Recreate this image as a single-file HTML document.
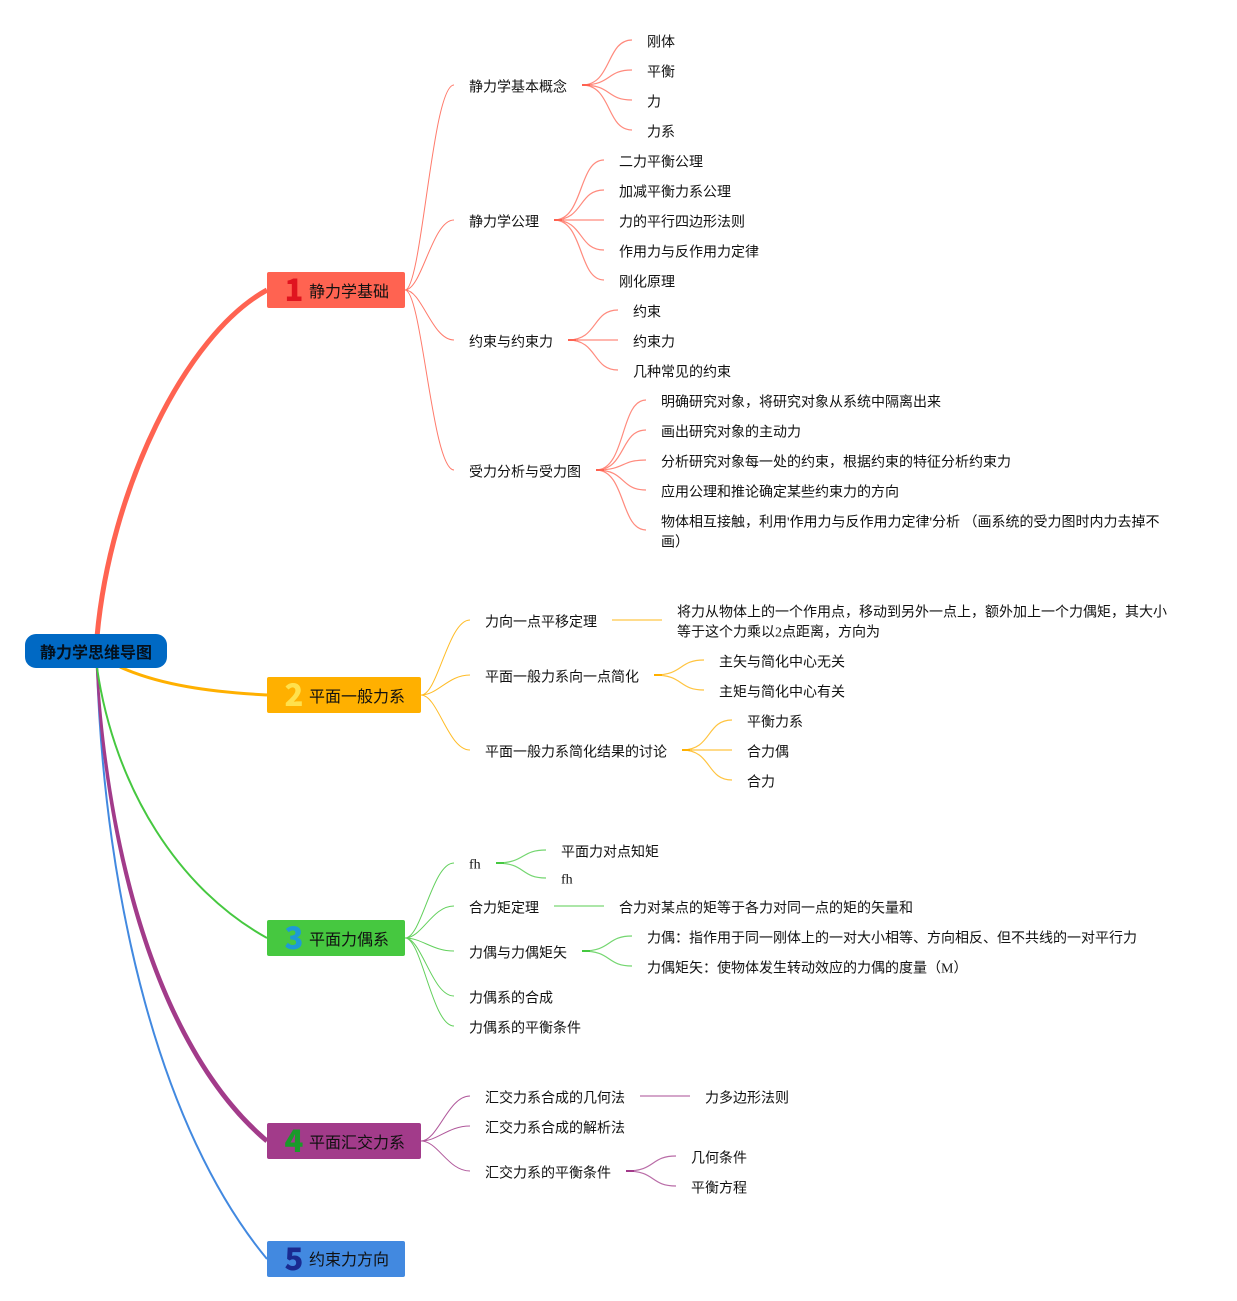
<!DOCTYPE html>
<html>
<head>
<meta charset="utf-8">
<style>
html,body{margin:0;padding:0;background:#fff;width:1237px;height:1301px;overflow:hidden}
svg{display:block}
text{font-family:"Liberation Serif","WenQuanYi Zen Hei","Noto Sans CJK SC",serif;font-size:14px;fill:#111}
.b{font-size:16px}
.r{font-size:16px;font-weight:bold;fill:#04101c}
.n{font-family:"Noto Sans CJK SC","Liberation Sans",sans-serif;font-size:31px;font-weight:900;text-anchor:middle}
path{fill:none;stroke-linecap:butt}
.t{stroke-width:1;opacity:.85}
.l{stroke-width:1.2;opacity:.75}
.s{stroke-width:2}
</style>
</head>
<body>
<svg width="1237" height="1301" viewBox="0 0 1237 1301" xmlns="http://www.w3.org/2000/svg">
<!-- main branches -->
<path d="M97 668C105 900 160 1130 267 1259" stroke="#4289e0" stroke-width="2"/>
<path d="M95.8 668C105.5 870 163 1056.5 265.4 1142.9L268.6 1139.1C167 1053.5 110.5 870 98.2 668Z" style="fill:#a23b8a"/>
<path d="M97 668C115 790 180 890 267 938" stroke="#46c840" stroke-width="2"/>
<path d="M120 667C160 685 210 692 267 695" stroke="#ffb000" stroke-width="3"/>
<path d="M97 637C110 490 185 335 267 290" stroke="#ff6351" stroke-width="5"/>

<!-- red -->
<g stroke="#ff6351">
<path class="t" d="M405 290C422 290 432 85 454 85M405 290C422 290 432 220 454 220M405 290C422 290 432 340 454 340M405 290C422 290 432 470 454 470"/>
<path class="s" d="M582 85H590M554 220H562M568 340H576M596 470H604"/>
<path class="l" d="M582 85C612 85 606 40 632 40M582 85C612 85 606 70 632 70M582 85C612 85 606 100 632 100M582 85C612 85 606 130 632 130"/>
<path class="l" d="M554 220C584 220 578 160 604 160M554 220C584 220 578 190 604 190M554 220H604M554 220C584 220 578 250 604 250M554 220C584 220 578 280 604 280"/>
<path class="l" d="M568 340C598 340 592 310 618 310M568 340H618M568 340C598 340 592 370 618 370"/>
<path class="l" d="M596 470C626 470 620 400 646 400M596 470C626 470 620 430 646 430M596 470C626 470 620 460 646 460M596 470C626 470 620 490 646 490M596 470C626 470 620 530 646 530"/>
</g>

<!-- yellow -->
<g stroke="#ffb000">
<path class="t" d="M421 695C438 695 448 620 470 620M421 695C438 695 448 675 470 675M421 695C438 695 448 750 470 750"/>
<path class="s" d="M654 675H662M682 750H690" />
<path d="M612 620H662" stroke-width="1.6" opacity=".6"/>
<path class="l" d="M654 675C684 675 678 660 704 660M654 675C684 675 678 690 704 690"/>
<path class="l" d="M682 750C712 750 706 720 732 720M682 750H732M682 750C712 750 706 780 732 780"/>
</g>

<!-- green -->
<g stroke="#46c840">
<path class="t" d="M405 938C422 938 432 863 454 863M405 938C422 938 432 906 454 906M405 938C422 938 432 951 454 951M405 938C422 938 432 996 454 996M405 938C422 938 432 1026 454 1026"/>
<path class="s" d="M496 863H504M582 951H590"/>
<path d="M554 906H604" stroke-width="1.6" opacity=".6"/>
<path class="l" d="M496 863C526 863 520 850 546 850M496 863C526 863 520 878 546 878"/>
<path class="l" d="M582 951C612 951 606 936 632 936M582 951C612 951 606 966 632 966"/>
</g>

<!-- purple -->
<g stroke="#a23b8a">
<path class="t" d="M421 1141C438 1141 448 1096 470 1096M421 1141C438 1141 448 1126 470 1126M421 1141C438 1141 448 1171 470 1171"/>
<path class="s" d="M626 1171H634"/>
<path d="M640 1096H690" stroke-width="1.6" opacity=".6"/>
<path class="l" d="M626 1171C656 1171 650 1156 676 1156M626 1171C656 1171 650 1186 676 1186"/>
</g>

<!-- root -->
<rect x="25" y="634" width="142" height="34" rx="11" fill="#0069c4"/>
<text class="r" x="40" y="658">静力学思维导图</text>

<!-- branch nodes -->
<rect x="267" y="272" width="138" height="36" rx="2" fill="#ff6351"/>
<text class="n" x="294" y="301" style="fill:#e0141f">1</text>
<text class="b" x="309" y="297">静力学基础</text>

<rect x="267" y="677" width="154" height="36" rx="2" fill="#ffb000"/>
<text class="n" x="294" y="706" style="fill:#ffe14d">2</text>
<text class="b" x="309" y="702">平面一般力系</text>

<rect x="267" y="920" width="138" height="36" rx="2" fill="#46c840"/>
<text class="n" x="294" y="949" style="fill:#1e9ad6">3</text>
<text class="b" x="309" y="945">平面力偶系</text>

<rect x="267" y="1123" width="154" height="36" rx="2" fill="#a23b8a"/>
<text class="n" x="294" y="1152" style="fill:#1a9a2a">4</text>
<text class="b" x="309" y="1148">平面汇交力系</text>

<rect x="267" y="1241" width="138" height="36" rx="2" fill="#4289e0"/>
<text class="n" x="294" y="1270" style="fill:#1a2a90">5</text>
<text class="b" x="309" y="1265">约束力方向</text>

<g transform="translate(0,0.5)">
<!-- labels: red -->
<text x="469" y="91">静力学基本概念</text>
<text x="469" y="226">静力学公理</text>
<text x="469" y="346">约束与约束力</text>
<text x="469" y="476">受力分析与受力图</text>
<text x="647" y="46">刚体</text>
<text x="647" y="76">平衡</text>
<text x="647" y="106">力</text>
<text x="647" y="136">力系</text>
<text x="619" y="166">二力平衡公理</text>
<text x="619" y="196">加减平衡力系公理</text>
<text x="619" y="226">力的平行四边形法则</text>
<text x="619" y="256">作用力与反作用力定律</text>
<text x="619" y="286">刚化原理</text>
<text x="633" y="316">约束</text>
<text x="633" y="346">约束力</text>
<text x="633" y="376">几种常见的约束</text>
<text x="661" y="406">明确研究对象，将研究对象从系统中隔离出来</text>
<text x="661" y="436">画出研究对象的主动力</text>
<text x="661" y="466">分析研究对象每一处的约束，根据约束的特征分析约束力</text>
<text x="661" y="496">应用公理和推论确定某些约束力的方向</text>
<text x="661" y="526">物体相互接触，利用'作用力与反作用力定律'分析 （画系统的受力图时内力去掉不</text>
<text x="661" y="546">画）</text>

<!-- labels: yellow -->
<text x="485" y="626">力向一点平移定理</text>
<text x="485" y="681">平面一般力系向一点简化</text>
<text x="485" y="756">平面一般力系简化结果的讨论</text>
<text x="677" y="616">将力从物体上的一个作用点，移动到另外一点上，额外加上一个力偶矩，其大小</text>
<text x="677" y="636">等于这个力乘以2点距离，方向为</text>
<text x="719" y="666">主矢与简化中心无关</text>
<text x="719" y="696">主矩与简化中心有关</text>
<text x="747" y="726">平衡力系</text>
<text x="747" y="756">合力偶</text>
<text x="747" y="786">合力</text>

<!-- labels: green -->
<text x="469" y="868">fh</text>
<text x="469" y="912">合力矩定理</text>
<text x="469" y="957">力偶与力偶矩矢</text>
<text x="469" y="1002">力偶系的合成</text>
<text x="469" y="1032">力偶系的平衡条件</text>
<text x="561" y="856">平面力对点知矩</text>
<text x="561" y="883">fh</text>
<text x="619" y="912">合力对某点的矩等于各力对同一点的矩的矢量和</text>
<text x="647" y="942">力偶：指作用于同一刚体上的一对大小相等、方向相反、但不共线的一对平行力</text>
<text x="647" y="972">力偶矩矢：使物体发生转动效应的力偶的度量（M）</text>

<!-- labels: purple -->
<text x="485" y="1102">汇交力系合成的几何法</text>
<text x="485" y="1132">汇交力系合成的解析法</text>
<text x="485" y="1177">汇交力系的平衡条件</text>
<text x="705" y="1102">力多边形法则</text>
<text x="691" y="1162">几何条件</text>
<text x="691" y="1192">平衡方程</text>
</g>
</svg>
</body>
</html>
